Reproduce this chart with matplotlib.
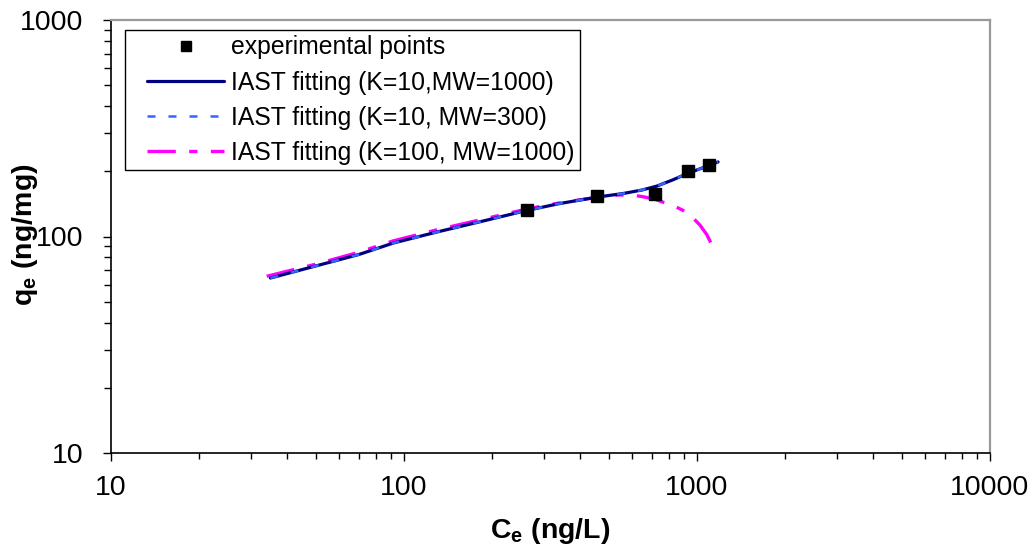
import matplotlib
matplotlib.use("Agg")
import numpy as np
import matplotlib.pyplot as plt
from matplotlib.ticker import LogLocator, NullFormatter, FixedLocator, FixedFormatter
from matplotlib.legend_handler import HandlerLine2D

plt.rcParams['font.family'] = ['Liberation Sans', 'DejaVu Sans']
plt.rcParams['mathtext.fontset'] = 'custom'
plt.rcParams['mathtext.rm'] = 'Liberation Sans'
plt.rcParams['mathtext.bf'] = 'Liberation Sans:bold'

# Experimental points
exp_C = [263, 456, 720, 931, 1099]
exp_q = [132, 154, 157, 201, 214]

# IAST fitting (K=10, MW=1000)
fit1_C = [35, 50, 70, 92, 130, 180, 263, 340, 456, 560, 650, 730, 830, 931, 1000, 1090, 1180]
fit1_q = [64.3, 73.1, 82.5, 93.3, 105, 116.6, 132, 142, 152, 158, 164, 171, 183, 196, 203, 212, 221]

# IAST fitting (K=10, MW=300)
fit2_C = [35, 50, 70, 92, 130, 180, 263, 340, 456, 560, 650, 730, 830, 931, 1000, 1090, 1180]
fit2_q = [64.3, 73.1, 82.5, 93.3, 105, 116.6, 132, 142, 152, 158, 164, 171, 183, 196, 203, 212, 221]

# IAST fitting (K=100, MW=1000)
fit3_C = [34, 50, 70, 92, 130, 180, 263, 340, 410, 480, 546, 610, 665, 720, 766, 830, 896, 960, 1023, 1080, 1135]
fit3_q = [65.5, 74.5, 84.5, 95.5, 107.5, 119, 134, 143, 148.5, 153, 155.6, 155, 152, 148.5, 144, 139, 132, 123.5, 113, 102, 89]

labels = ["experimental points", "IAST fitting (K=10,MW=1000)",
          "IAST fitting (K=10, MW=300)", "IAST fitting (K=100, MW=1000)"]
x_ticks = [10, 100, 1000, 10000]
y_ticks = [10, 100, 1000]


class LeftPadHandler(HandlerLine2D):
    """Legend handle whose line starts a bit to the right of the handle box."""
    def __init__(self, lpad, **kw):
        super().__init__(**kw)
        self.lpad = lpad

    def get_xdata(self, legend, xdescent, ydescent, width, height, fontsize):
        xdata = np.array([-xdescent + self.lpad, -xdescent + width], float)
        xm = np.array([-xdescent + (self.lpad + width) / 2.0], float)
        return xdata, xm


fig = plt.figure(figsize=(10.34, 5.48), dpi=100)
ax = fig.add_axes([111/1034, 1-453/548, (990-111)/1034, (453-20)/548])

ax.set_xscale('log')
ax.set_yscale('log')

h0, = ax.plot(exp_C, exp_q, linestyle='none', marker='s', markersize=9,
              color='black', label=labels[0], zorder=5)
h1, = ax.plot(fit1_C, fit1_q, color='#000080', lw=2.3, label=labels[1], zorder=3,
              solid_capstyle='round')
h2, = ax.plot(fit2_C, fit2_q, color='#3366FF', lw=1.8, linestyle=(0, (3.2, 5.2)),
              label=labels[2], zorder=4)
h3, = ax.plot(fit3_C, fit3_q, color='#FF00FF', lw=2.4, linestyle=(0, (8.5, 4.0, 2.5, 4.0)),
              label=labels[3], zorder=2)

ax.set_xlim(10, 10000)
ax.set_ylim(10, 1000)

ax.xaxis.set_major_locator(FixedLocator(x_ticks))
ax.xaxis.set_major_formatter(FixedFormatter([str(v) for v in x_ticks]))
ax.yaxis.set_major_locator(FixedLocator(y_ticks))
ax.yaxis.set_major_formatter(FixedFormatter([str(v) for v in y_ticks]))
ax.xaxis.set_minor_locator(LogLocator(base=10, subs=range(2, 10)))
ax.yaxis.set_minor_locator(LogLocator(base=10, subs=range(2, 10)))
ax.xaxis.set_minor_formatter(NullFormatter())
ax.yaxis.set_minor_formatter(NullFormatter())

ax.tick_params(axis='x', which='major', direction='out', length=6, width=1, pad=10, labelsize=20.5)
ax.tick_params(axis='x', which='minor', direction='out', length=4, width=1)
ax.tick_params(axis='y', which='major', direction='out', length=6, width=1, pad=14, labelsize=20.5)
ax.tick_params(axis='y', which='minor', direction='out', length=5, width=1)

for s in ['left', 'bottom']:
    ax.spines[s].set_color('black')
    ax.spines[s].set_linewidth(1.2)
for s in ['top', 'right']:
    ax.spines[s].set_color('#999999')
    ax.spines[s].set_linewidth(1.6)

ax.set_xlabel(r'C$_\mathbf{e}$ (ng/L)', fontsize=20.5, fontweight='bold')
ax.set_ylabel(r'q$_\mathbf{e}$ (ng/mg)', fontsize=20.5, fontweight='bold')
ax.xaxis.set_label_coords(0.5, (453-516)/433)
ax.yaxis.set_label_coords((40-111)/879, (453-235)/433)

fs = 17.8
lpad_pt = 12.0
leg = ax.legend(handles=[h0, h1, h2, h3], loc='upper left',
                bbox_to_anchor=((125-111)/879, (453-30)/433),
                fontsize=fs, frameon=True, fancybox=False, edgecolor='black',
                framealpha=1, borderaxespad=0, borderpad=0.22, handlelength=3.8,
                handletextpad=0.25, labelspacing=0.45, markerscale=0.85,
                handler_map={h0: LeftPadHandler(lpad_pt), h1: LeftPadHandler(lpad_pt),
                             h2: LeftPadHandler(lpad_pt), h3: LeftPadHandler(lpad_pt)})
leg.get_frame().set_linewidth(1.0)

fig.savefig('out.png', dpi=100, facecolor='white')
